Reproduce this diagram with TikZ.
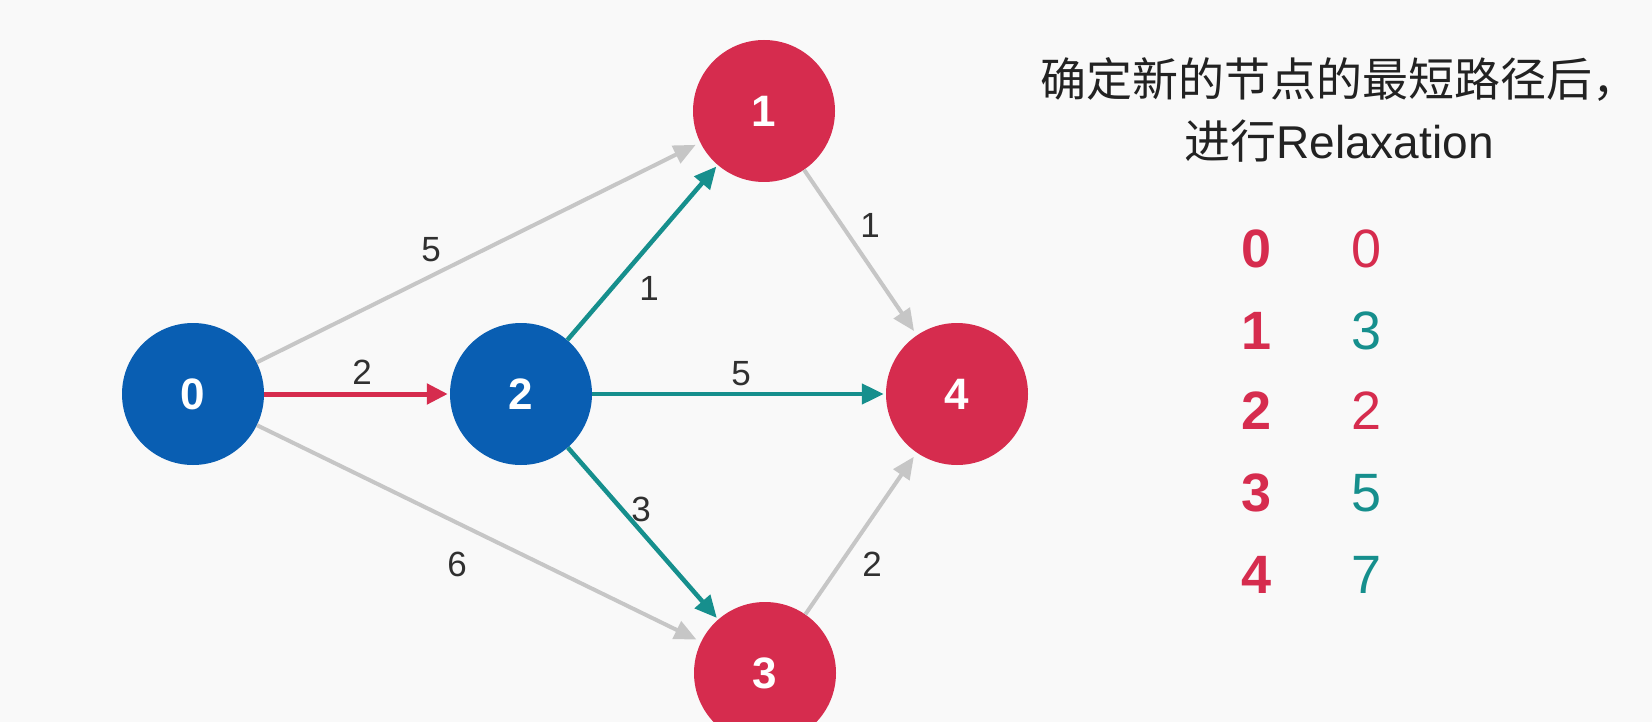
\documentclass[tikz,border=0pt]{standalone}
\usepackage{fontspec}
\setmainfont{Liberation Sans}
\newfontfamily\cjk{Noto Sans CJK SC}
\usetikzlibrary{arrows.meta}
\definecolor{nblue}{RGB}{9,94,178}
\definecolor{nred}{RGB}{214,44,78}
\definecolor{nteal}{RGB}{22,143,141}
\definecolor{egray}{RGB}{198,198,198}
\definecolor{labtext}{RGB}{48,48,48}
\definecolor{bgcol}{RGB}{249,249,249}
\begin{document}
\begin{tikzpicture}[x=1pt,y=-1pt,
  vertex/.style={circle,minimum size=142pt,inner sep=0pt,text=white,font=\fontsize{44}{44}\selectfont\bfseries},
  bluev/.style={vertex,fill=nblue},
  redv/.style={vertex,fill=nred},
  gedge/.style={draw=egray,line width=4pt,-{Triangle[length=22pt,width=19pt]},shorten >=5pt},
  tedge/.style={draw=nteal,line width=4.5pt,-{Triangle[length=22pt,width=20pt]},shorten >=2pt},
  redge/.style={draw=nred,line width=5pt,-{Triangle[length=21pt,width=20pt]},shorten >=2pt},
  elabel/.style={text=labtext,font=\fontsize{35}{35}\selectfont,inner sep=0pt},
  tleft/.style={text=nred,font=\fontsize{54}{54}\selectfont\bfseries,inner sep=0pt},
  tright/.style={font=\fontsize{54}{54}\selectfont,inner sep=0pt},
  title/.style={text=labtext!70!black,font=\fontsize{46}{62}\selectfont,align=center,inner sep=0pt}
]
\fill[bgcol] (0,0) rectangle (1652,722);
\useasboundingbox (0,0) rectangle (1652,722);
\begin{scope}
\clip (0,0) rectangle (1652,722);
% vertices
\node[bluev] (n0) at (193,394) {0};
\node[bluev] (n2) at (521,394) {2};
\node[redv]  (n1) at (764,111) {1};
\node[redv]  (n4) at (957,394) {4};
\node[redv]  (n3) at (765,673) {3};
% edges
\draw[gedge] (n0) -- (n1);
\draw[gedge] (n0) -- (n3);
\draw[gedge] (n1) -- (n4);
\draw[gedge] (n3) -- (n4);
\draw[redge] (n0) -- (n2);
\draw[tedge] (n2) -- (n1);
\draw[tedge] (n2) -- (n4);
\draw[tedge] (n2) -- (n3);
% edge labels
\node[elabel] (l01) at (431,250) {5};
\node[elabel] (l02) at (362,372) {2};
\node[elabel] (l03) at (457,564) {6};
\node[elabel] (l21) at (649,288) {1};
\node[elabel] (l24) at (741,374) {5};
\node[elabel] (l23) at (641,509) {3};
\node[elabel] (l14) at (870,225) {1};
\node[elabel] (l34) at (872,564) {2};
\end{scope}
% title
\node[title] (ttl) at (1339,110) {{\cjk 确定新的节点的最短路径后，}\\{\cjk 进行}Relaxation};
% table
\node[tleft] (a0) at (1257,249) {0};
\node[tleft] (a1) at (1257,331) {1};
\node[tleft] (a2) at (1257,411) {2};
\node[tleft] (a3) at (1257,493) {3};
\node[tleft] (a4) at (1257,575) {4};
\node[tright,text=nred]  (b0) at (1367,249) {0};
\node[tright,text=nteal] (b1) at (1367,331) {3};
\node[tright,text=nred]  (b2) at (1367,411) {2};
\node[tright,text=nteal] (b3) at (1367,493) {5};
\node[tright,text=nteal] (b4) at (1367,575) {7};
\end{tikzpicture}
\end{document}
